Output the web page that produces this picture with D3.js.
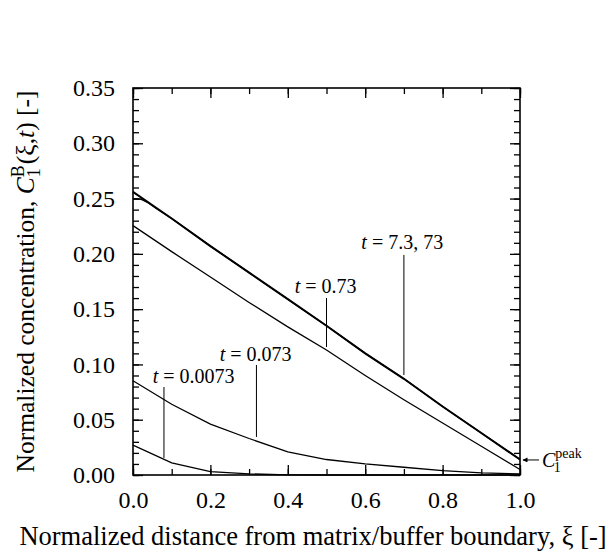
<!DOCTYPE html>
<html>
<head>
<meta charset="utf-8">
<script src="https://cdn.jsdelivr.net/npm/d3@7"></script>
<style>
	body { margin: 0; background: #fff; }
	svg { font-family: 'Liberation Serif', 'Times New Roman', serif; }
	.axis path, .axis line { stroke: #000; }
</style>
</head>
<body>
<div id="vis"></div>
<script>
// DATA
let xi = [0, 0.1, 0.2, 0.3, 0.4, 0.5, 0.6, 0.7, 0.8, 0.9, 1.0];
let cT0073 = [0.027, 0.011, 0.003, 0.001, 0.0002, 0, 0, 0, 0, 0, 0];
let cT073 = [0.0853, 0.064, 0.046, 0.033, 0.021, 0.014, 0.010, 0.007, 0.004, 0.002, 0.001];
let cT73 = [0.2255, 0.202, 0.179, 0.156, 0.134, 0.113, 0.090, 0.068, 0.047, 0.026, 0.005];
let cT730 = [0.256, 0.232, 0.207, 0.183, 0.159, 0.135, 0.110, 0.087, 0.062, 0.038, 0.014];
// t = 7.3 starts a little lower and joins the t = 73 line near the boundary
let xiT7 = [0, 0.02, 0.04, 0.06, 0.1, 0.2, 0.3, 0.4, 0.5, 0.6, 0.7, 0.8, 0.9, 1.0];
let cT7 = [0.250, 0.2495, 0.246, 0.241, 0.232, 0.207, 0.183, 0.159, 0.135, 0.110, 0.087, 0.062, 0.038, 0.014];

let series = [
	{ x: xi, y: cT0073, w: 1.3 },
	{ x: xi, y: cT073, w: 1.3 },
	{ x: xi, y: cT73, w: 1.3 },
	{ x: xiT7, y: cT7, w: 1.3 },
	{ x: xi, y: cT730, w: 2 }
];

let xTicks = [0, 0.2, 0.4, 0.6, 0.8, 1.0];
let xMinor = d3.range(0, 1.0001, 0.1);
let yTicks = [0, 0.05, 0.10, 0.15, 0.20, 0.25, 0.30, 0.35];
let yMinor = d3.range(0, 0.3501, 0.01);

// labels: text after "t = ", text anchor point and leader line (data units)
let notes = [
	{ text: '0.0073', tx: 0.051, ty: 0.0835, lx: 0.080, y0: 0.0796, y1: 0.0154 },
	{ text: '0.073', tx: 0.224, ty: 0.1031, lx: 0.319, y0: 0.0995, y1: 0.0344 },
	{ text: '0.73', tx: 0.418, ty: 0.1649, lx: 0.500, y0: 0.1601, y1: 0.1158 },
	{ text: '7.3, 73', tx: 0.590, ty: 0.2044, lx: 0.700, y0: 0.1990, y1: 0.0904 }
];
let peakValue = 0.0136;

// PARAMETERS
let width = 611,
	height = 556,
	margin = { top: 88, right: 91, bottom: 81, left: 133 },
	plotW = width - margin.left - margin.right,
	plotH = height - margin.top - margin.bottom,
	serif = 'Liberation Serif';

// SCALES
let x = d3.scaleLinear().domain([0, 1]).range([margin.left, margin.left + plotW]);
let y = d3.scaleLinear().domain([0, 0.35]).range([margin.top + plotH, margin.top]);

let svg = d3.select('#vis').append('svg').attr('width', width).attr('height', height);

// AXES (ticks pointing inward)
let fmt = d3.format('.1f'), fmtY = d3.format('.2f');
let bottom = margin.top + plotH, right = margin.left + plotW;

let axisStyle = g => {
	g.select('.domain').remove();
	g.attr('font-family', null).attr('font-size', null);
	g.selectAll('text')
		.attr('fill', '#000')
		.style('font-family', serif)
		.style('font-weight', 'normal')
		.style('font-size', '24px');
};

svg.append('g').attr('class', 'axis').attr('transform', `translate(0,${bottom})`)
	.call(d3.axisBottom(x).tickValues(xMinor).tickSize(-6).tickFormat(''))
	.call(axisStyle);
svg.append('g').attr('class', 'axis').attr('transform', `translate(0,${bottom})`)
	.call(d3.axisBottom(x).tickValues(xTicks).tickSize(-10).tickFormat(fmt))
	.call(axisStyle)
	.selectAll('text').attr('dy', '0.71em').attr('y', 16);
svg.append('g').attr('class', 'axis').attr('transform', `translate(0,${margin.top})`)
	.call(d3.axisTop(x).tickValues(xMinor).tickSize(-6).tickFormat(''))
	.call(axisStyle);
svg.append('g').attr('class', 'axis').attr('transform', `translate(0,${margin.top})`)
	.call(d3.axisTop(x).tickValues(xTicks).tickSize(-10).tickFormat(''))
	.call(axisStyle);

svg.append('g').attr('class', 'axis').attr('transform', `translate(${margin.left},0)`)
	.call(d3.axisLeft(y).tickValues(yMinor).tickSize(-6).tickFormat(''))
	.call(axisStyle);
svg.append('g').attr('class', 'axis').attr('transform', `translate(${margin.left},0)`)
	.call(d3.axisLeft(y).tickValues(yTicks).tickSize(-10).tickFormat(fmtY))
	.call(axisStyle)
	.selectAll('text').attr('x', -18);
svg.append('g').attr('class', 'axis').attr('transform', `translate(${right},0)`)
	.call(d3.axisRight(y).tickValues(yMinor).tickSize(-6).tickFormat(''))
	.call(axisStyle);
svg.append('g').attr('class', 'axis').attr('transform', `translate(${right},0)`)
	.call(d3.axisRight(y).tickValues(yTicks).tickSize(-10).tickFormat(''))
	.call(axisStyle);

svg.selectAll('.axis line').attr('stroke-width', 1.3);

// FRAME
svg.append('rect')
	.attr('x', margin.left).attr('y', margin.top)
	.attr('width', plotW).attr('height', plotH)
	.attr('fill', 'none').attr('stroke', '#000').attr('stroke-width', 1.6);

// CURVES
let line = d3.line().x(d => x(d[0])).y(d => y(d[1]));
svg.selectAll('path.curve')
	.data(series)
	.enter()
	.append('path')
	.attr('class', 'curve')
	.attr('fill', 'none')
	.attr('stroke', '#000')
	.attr('stroke-width', d => d.w)
	.attr('d', d => line(d.x.map((v, i) => [v, d.y[i]])));

// LABELS
let note = svg.selectAll('g.note').data(notes).enter().append('g').attr('class', 'note');
note.append('line')
	.attr('x1', d => x(d.lx)).attr('x2', d => x(d.lx))
	.attr('y1', d => y(d.y0)).attr('y2', d => y(d.y1))
	.attr('stroke', '#000').attr('stroke-width', 1);
let noteText = note.append('text')
	.attr('x', d => x(d.tx)).attr('y', d => y(d.ty))
	.attr('font-size', 20);
noteText.append('tspan').attr('font-style', 'italic').text('t');
noteText.append('tspan').text(d => ' = ' + d.text);

// C1 peak marker
svg.append('defs').append('marker')
	.attr('id', 'arrow').attr('viewBox', '0 0 10 10')
	.attr('refX', 9).attr('refY', 5)
	.attr('markerWidth', 7).attr('markerHeight', 5)
	.attr('orient', 'auto')
	.append('path').attr('d', 'M0,0L10,5L0,10z').attr('fill', '#000');
svg.append('line')
	.attr('x1', right + 19).attr('x2', right + 3)
	.attr('y1', y(peakValue)).attr('y2', y(peakValue))
	.attr('stroke', '#000').attr('stroke-width', 1)
	.attr('marker-end', 'url(#arrow)');
let peak = svg.append('text')
	.attr('x', right + 22).attr('y', y(peakValue) + 7)
	.attr('font-size', 20);
peak.append('tspan').attr('font-style', 'italic').text('C');
peak.append('tspan').attr('font-size', 14).attr('dy', -9).text('peak');
peak.append('tspan').attr('font-size', 14).attr('dx', -28).attr('dy', 14).text('1');

// AXIS TITLES
svg.append('text')
	.attr('x', 313).attr('y', 545)
	.attr('text-anchor', 'middle')
	.attr('font-size', 26.5)
	.text('Normalized distance from matrix/buffer boundary, ξ [-]');

let yt = svg.append('text')
	.attr('transform', `translate(34,${margin.top + plotH / 2}) rotate(-90)`)
	.attr('text-anchor', 'middle')
	.attr('font-size', 25.5);
yt.append('tspan').text('Normalized concentration, ');
yt.append('tspan').attr('font-style', 'italic').text('C');
yt.append('tspan').attr('font-size', 18).attr('dy', -10).text('B');
yt.append('tspan').attr('font-size', 18).attr('dx', -12).attr('dy', 16).text('1');
yt.append('tspan').attr('dx', 4).attr('dy', -6).text('(ξ,');
yt.append('tspan').attr('font-style', 'italic').text('t');
yt.append('tspan').text(') [-]');
</script>
</body>
</html>
